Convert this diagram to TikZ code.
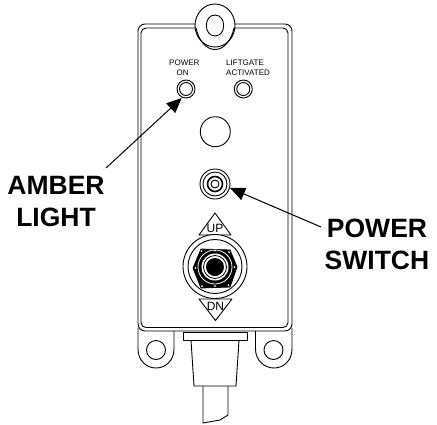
\documentclass[tikz,border=0pt]{standalone}
\usepackage{fontspec}
\setmainfont{Liberation Sans}
\usetikzlibrary{arrows.meta}
\tikzset{
  ln/.style={draw=black,line width=0.9pt,line join=round},
  callout/.style={font=\fontsize{26.5}{32}\selectfont\bfseries,align=center,inner sep=0pt},
  tinylabel/.style={font=\fontsize{8}{10}\selectfont,align=left,inner sep=0pt},
  sym/.style={font=\fontsize{12}{12}\selectfont,inner sep=0pt},
  lead/.style={draw=black,line width=1pt,-{Triangle[length=15pt,width=13pt]}},
  disc/.style={circle,inner sep=0pt,minimum size=#1}
}
\begin{document}
\begin{tikzpicture}[x=1pt,y=-1pt]
\useasboundingbox (0,0) rectangle (437,424);
\fill[white] (0,0) rectangle (437,424);
% ears
\draw[ln] (138,328) -- (138,349) .. controls (138,360) and (146,368) .. (156,368) .. controls (166,368) and (174,360) .. (174,349) -- (174,331);
\draw[ln] (255.5,331) -- (255.5,349) .. controls (255.5,360) and (264,368) .. (274,368) .. controls (284,368) and (292,360) .. (292,349) -- (292,328);
\node[ln,disc=19pt] (holeL) at (156,350) {};
\node[ln,disc=19pt] (holeR) at (273.5,350) {};
% plate
\draw[ln,rounded corners=7pt] (195,24) -- (138,24) -- (138,331) -- (292,331) -- (292,24) -- (235,24);
\draw[ln,rounded corners=5pt] (196,28) -- (141,28) -- (141,327.5) -- (288,327.5) -- (288,28) -- (234,28);
% top tab
\draw[ln] (215,25.5) ellipse[x radius=20pt,y radius=21.5pt];
\draw[ln] (196,28) .. controls (199,42) and (207,49.5) .. (215,49.5) .. controls (223,49.5) and (231,42) .. (234,28);
\draw[ln] (215,15) .. controls (226.5,15) and (226.5,36) .. (215,36) .. controls (203.5,36) and (203.5,15) .. (215,15);
% connector
\draw[ln] (183,332) rectangle (247,340);
\draw[ln] (191,340) -- (194,386) -- (236,386) -- (239,340);
\draw[ln] (203,386) -- (203,423) -- (220,420) -- (228,415) -- (228,386);
% texts
\node[tinylabel,anchor=west] (pw) at (169,68) {POWER\\\hspace*{7.5pt}ON};
\node[tinylabel,anchor=west] (lg) at (226,68) {LIFTGATE\\ACTIVATED};
% leds
\node[ln,disc=18pt] (ledA) at (186,89) {};
\node[ln,disc=13pt] at (186,89) {};
\node[ln,disc=18pt] (ledB) at (243.3,89) {};
\node[ln,disc=13pt] at (243.3,89) {};
\node[ln,disc=30pt] (plug) at (215.3,131.7) {};
% power switch
\node[ln,disc=30pt] (psw) at (215,184) {};
\node[ln,disc=24pt] at (215,184) {};
\node[draw=black,line width=1.6pt,disc=15pt] at (215,184) {};
\node[ln,disc=8pt] at (215,184) {};
% up/dn
\draw[ln] (215,213) -- (231,235) -- (199,235) -- cycle;
\node[sym] (up) at (215,228.5) {UP};
\draw[ln] (199,299) -- (232,299) -- (215.5,320.5) -- cycle;
\node[sym] (dn) at (215.5,306) {DN};
% main switch
\node[ln,disc=64pt,fill=white] (tog) at (215,266.5) {};
\node[ln,disc=54pt] at (215,266.5) {};
\draw[fill=black,draw=black,line width=0.8pt,line join=round] (193,268) -- (201,249) -- (230,250) -- (237,267) -- (230,287) -- (201,288) -- cycle;
\foreach \p in {(201.5,251),(215,250.5),(229,252),(234.5,267),(228.5,285),(215,286),(202,286),(195.5,268)}{
  \fill[white] \p circle[radius=1pt];
}
\node[draw=white,line width=0.8pt,disc=34pt] at (215,267) {};
\node[fill=white,disc=27pt] at (215,267) {};
\node[draw=black,line width=0.8pt,disc=23pt] at (215,267) {};
\node[fill=black,disc=18pt] at (215,267) {};
% callouts
\node[callout] (amber) at (56,201.5) {AMBER\\LIGHT};
\node[callout] (power) at (377,244) {POWER\\SWITCH};
\coordinate (a1) at (106,168);
\coordinate (a2) at (181.7,98);
\coordinate (p1) at (321,227);
\coordinate (p2) at (230,188);
\draw[lead] (a1) -- (a2);
\draw[lead] (p1) -- (p2);
\end{tikzpicture}
\end{document}
